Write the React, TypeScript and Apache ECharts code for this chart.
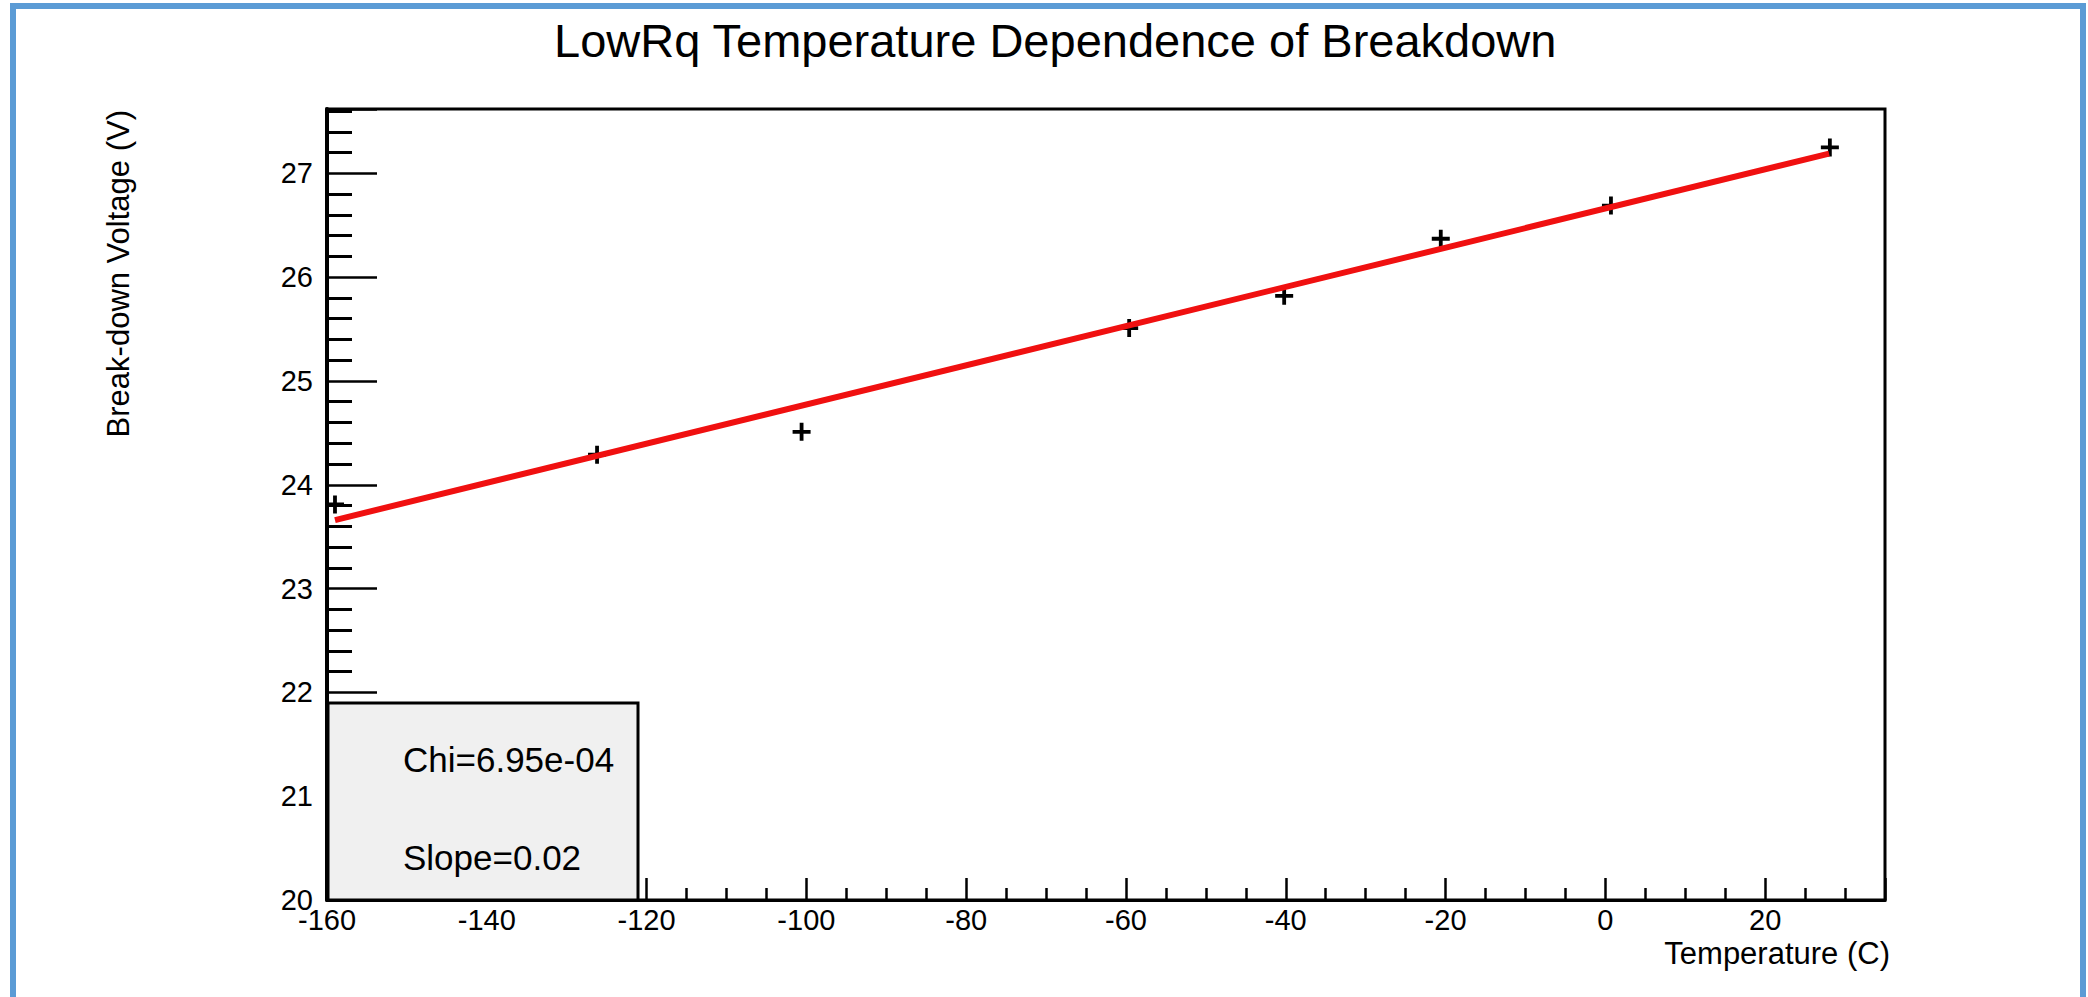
import React, { useEffect, useRef } from "react";
import * as echarts from "echarts";

// Data
const tempC = [-159, -126.2, -100.6, -59.6, -40.2, -20.6, 0.7, 28.1];
const voltage = [23.81, 24.29, 24.51, 25.51, 25.82, 26.37, 26.69, 27.25];
const fitT = [-159, 28];
const fitV = [23.66, 27.19];
const xRange = { min: -160, max: 35, interval: 20 };
const yRange = { min: 20, max: 27.62, interval: 1 };
const statLines = ["Chi=6.95e-04", "Slope=0.02"];

const FONT = "'Liberation Sans', Arial, Helvetica, sans-serif";
const PLUS =
  "path://M-1.9,-9 L1.9,-9 L1.9,-1.9 L9,-1.9 L9,1.9 L1.9,1.9 L1.9,9 L-1.9,9 L-1.9,1.9 L-9,1.9 L-9,-1.9 L-1.9,-1.9 Z";

export default function App() {
  const ref = useRef<HTMLDivElement>(null);
  useEffect(() => {
    if (!ref.current) return;
    const chart = echarts.init(ref.current, null, { renderer: "svg" });
    const blue = "#5b9bd5";
    chart.setOption({
      animation: false,
      backgroundColor: "#ffffff",
      title: {
        text: "LowRq Temperature Dependence of Breakdown",
        left: 549,
        top: 12,
        textStyle: { fontFamily: FONT, fontSize: 47, fontWeight: "normal", color: "#000" },
      },
      grid: {
        left: 327,
        right: 203,
        top: 109,
        bottom: 97,
        show: true,
        borderColor: "#000",
        borderWidth: 3,
        backgroundColor: "#ffffff",
        containLabel: false,
        outerBoundsMode: "none",
      },
      xAxis: {
        type: "value",
        min: xRange.min,
        max: xRange.max,
        interval: xRange.interval,
        name: "Temperature (C)",
        nameLocation: "end",
        nameGap: 5,
        nameTextStyle: {
          fontFamily: FONT,
          fontSize: 31,
          color: "#000",
          align: "right",
          verticalAlign: "top",
          padding: [38, 0, 0, 0],
        },
        axisLine: { show: true, onZero: false, lineStyle: { color: "#000", width: 3 } },
        axisTick: { show: true, inside: true, length: 22, lineStyle: { color: "#000", width: 2.5 } },
        minorTick: { show: true, splitNumber: 4, length: 12, lineStyle: { color: "#000", width: 2.5 } },
        splitLine: { show: false },
        axisLabel: {
          showMaxLabel: false,
          margin: 5,
          fontFamily: FONT,
          fontSize: 29,
          color: "#000",
        },
      },
      yAxis: {
        type: "value",
        min: yRange.min,
        max: yRange.max,
        interval: yRange.interval,
        axisLine: { show: true, onZero: false, lineStyle: { color: "#000", width: 4 } },
        axisTick: { show: true, inside: true, length: 50, lineStyle: { color: "#000", width: 2.5 } },
        minorTick: { show: true, splitNumber: 5, length: 25, lineStyle: { color: "#000", width: 3 } },
        splitLine: { show: false },
        axisLabel: {
          showMaxLabel: false,
          margin: 14,
          fontFamily: FONT,
          fontSize: 29,
          color: "#000",
        },
      },
      series: [
        {
          name: "data",
          type: "scatter",
          data: tempC.map((t, i) => [t, voltage[i]]),
          symbol: PLUS,
          symbolSize: 18,
          itemStyle: { color: "#000", opacity: 1 },
          z: 2,
        },
        {
          name: "fit",
          type: "line",
          data: fitT.map((t, i) => [t, fitV[i]]),
          showSymbol: false,
          symbol: "none",
          lineStyle: { color: "#f01010", width: 6 },
          z: 3,
        },
      ],
      graphic: [
        { type: "rect", z: 100, shape: { x: 10, y: 3, width: 6, height: 994 }, style: { fill: blue } },
        { type: "rect", z: 100, shape: { x: 10, y: 3, width: 2076, height: 6 }, style: { fill: blue } },
        { type: "rect", z: 100, shape: { x: 2080, y: 3, width: 6, height: 994 }, style: { fill: blue } },
        {
          type: "text",
          z: 100,
          x: 118,
          y: 110,
          rotation: Math.PI / 2,
          style: {
            text: "Break-down Voltage (V)",
            font: `31px ${FONT}`,
            fill: "#000",
            textAlign: "right",
            textVerticalAlign: "middle",
          },
        },
        {
          type: "rect",
          z: 100,
          shape: { x: 328, y: 703, width: 310, height: 197 },
          style: { fill: "#f0f0f0", stroke: "#000", lineWidth: 3 },
        },
        {
          type: "text",
          z: 101,
          x: 403,
          y: 759,
          style: {
            text: statLines[0],
            font: `35px ${FONT}`,
            fill: "#000",
            textAlign: "left",
            textVerticalAlign: "middle",
          },
        },
        {
          type: "text",
          z: 101,
          x: 403,
          y: 857,
          style: {
            text: statLines[1],
            font: `35px ${FONT}`,
            fill: "#000",
            textAlign: "left",
            textVerticalAlign: "middle",
          },
        },
      ],
    });
    return () => chart.dispose();
  }, []);
  return (
    <div
      ref={ref}
      style={{ position: "fixed", left: 0, top: 0, width: 2088, height: 997, background: "#fff" }}
    />
  );
}
